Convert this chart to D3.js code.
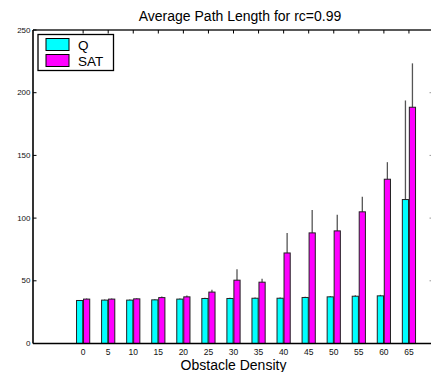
<!DOCTYPE html>
<html>
<head>
<meta charset="utf-8">
<script src="https://cdn.jsdelivr.net/npm/d3@7"></script>
<style>
  body { margin: 0; background: #fff; }
  svg { display: block; font-family: "Liberation Sans", Arial, sans-serif; }
</style>
</head>
<body>
<svg id="chart" width="431" height="372"></svg>
<script>
// obstacle density categories
const densities = [0, 5, 10, 15, 20, 25, 30, 35, 40, 45, 50, 55, 60, 65];
const seriesNames = ['Q', 'SAT'];
// mean path length
const qValues = [34.3, 34.6, 34.6, 34.8, 35.4, 35.9, 35.9, 36.1, 36.1, 36.7, 37.2, 37.7, 38.0, 114.8];
const satValues = [35.4, 35.4, 35.6, 36.6, 37.2, 41.0, 50.5, 48.9, 72.2, 88.2, 89.8, 105.0, 131.0, 188.4];
// error (upper extent)
const qErrors = [0.4, 0.4, 0.4, 0.4, 0.4, 0.5, 0.5, 0.5, 0.5, 0.6, 0.7, 0.7, 0.8, 79];
const satErrors = [0.5, 0.5, 0.5, 0.8, 1.0, 1.8, 8.8, 2.7, 16, 18.3, 12.8, 12, 13.6, 35];
const yTicks = [0, 50, 100, 150, 200, 250];
const xDomain = [-10, 70];

const colors = ['#00ffff', '#ff00ff'];
const margin = { top: 30, right: -3, bottom: 28.5, left: 33 };
const width = 431, height = 372;

const svg = d3.select('#chart');

const x = d3.scaleLinear()
  .domain(xDomain)
  .range([margin.left, width - margin.right]);

const y = d3.scaleLinear()
  .domain([0, 250])
  .range([height - margin.bottom, margin.top]);

const series = [
  { name: seriesNames[0], values: qValues, errors: qErrors, offset: -3.5 },
  { name: seriesNames[1], values: satValues, errors: satErrors, offset: 3.5 }
];
const barW = 6.2;

/** error bars (drawn first so the bar covers the lower half) */
series.forEach((s, si) => {
  svg.selectAll(`.err${si}`)
    .data(densities)
    .enter()
    .append('line')
    .attr('class', `err${si}`)
    .attr('x1', (d) => x(d) + s.offset)
    .attr('x2', (d) => x(d) + s.offset)
    .attr('y1', (d, i) => y(s.values[i] - s.errors[i]))
    .attr('y2', (d, i) => y(s.values[i] + s.errors[i]))
    .style('stroke', '#555')
    .style('stroke-width', 1.3);
});

/** bars */
series.forEach((s, si) => {
  svg.selectAll(`.bar${si}`)
    .data(densities)
    .enter()
    .append('rect')
    .attr('class', `bar${si}`)
    .attr('x', (d) => x(d) + s.offset - barW / 2)
    .attr('width', barW)
    .attr('y', (d, i) => y(s.values[i]))
    .attr('height', (d, i) => y(0) - y(s.values[i]))
    .attr('fill', colors[si])
    .style('stroke', '#222')
    .style('stroke-width', 1);
});

/** axes */
const axisColor = '#000';
svg.append('line')
  .attr('x1', x(xDomain[0])).attr('x2', x(xDomain[1]))
  .attr('y1', y(0)).attr('y2', y(0))
  .style('stroke', axisColor).style('stroke-width', 1.6);
svg.append('line')
  .attr('x1', x(xDomain[0])).attr('x2', x(xDomain[1]))
  .attr('y1', y(250)).attr('y2', y(250))
  .style('stroke', '#222').style('stroke-width', 1.4);
svg.append('line')
  .attr('x1', x(xDomain[0])).attr('x2', x(xDomain[0]))
  .attr('y1', y(0)).attr('y2', y(250))
  .style('stroke', axisColor).style('stroke-width', 1.6);

// y ticks left + right
svg.selectAll('.ytick')
  .data(yTicks)
  .enter()
  .append('line')
  .attr('class', 'ytick')
  .attr('x1', x(xDomain[0])).attr('x2', x(xDomain[0]) + 3.5)
  .attr('y1', (d) => y(d)).attr('y2', (d) => y(d))
  .style('stroke', '#000').style('stroke-width', 1);
svg.selectAll('.ytickr')
  .data(yTicks.slice(1, -1))
  .enter()
  .append('line')
  .attr('class', 'ytickr')
  .attr('x1', x(xDomain[1]) - 4.5).attr('x2', x(xDomain[1]))
  .attr('y1', (d) => y(d)).attr('y2', (d) => y(d))
  .style('stroke', '#999').style('stroke-width', 1);

svg.selectAll('.ylabel')
  .data(yTicks)
  .enter()
  .append('text')
  .attr('class', 'ylabel')
  .attr('x', x(xDomain[0]) - 2.5)
  .attr('y', (d) => y(d) + 2.5)
  .attr('text-anchor', 'end')
  .style('font-size', '8px')
  .attr('fill', '#111')
  .text((d) => d);

// x ticks at top, labels at bottom
svg.selectAll('.xtick')
  .data(densities)
  .enter()
  .append('line')
  .attr('class', 'xtick')
  .attr('x1', (d) => x(d)).attr('x2', (d) => x(d))
  .attr('y1', y(250)).attr('y2', y(250) + 3.5)
  .style('stroke', '#000').style('stroke-width', 1);

svg.selectAll('.xlabel')
  .data(densities)
  .enter()
  .append('text')
  .attr('class', 'xlabel')
  .attr('x', (d) => x(d))
  .attr('y', y(0) + 11.5)
  .attr('text-anchor', 'middle')
  .style('font-size', '8.5px')
  .attr('fill', '#111')
  .text((d) => d);

svg.append('text')
  .attr('x', 233.5)
  .attr('y', 369.5)
  .attr('text-anchor', 'middle')
  .style('font-size', '14px')
  .attr('fill', '#000')
  .text('Obstacle Density');

svg.append('text')
  .attr('x', 240)
  .attr('y', 21)
  .attr('text-anchor', 'middle')
  .style('font-size', '14px')
  .attr('fill', '#000')
  .text('Average Path Length for rc=0.99');

/** legend */
const legend = svg.append('g').attr('transform', 'translate(38,34.5)');
legend.append('rect')
  .attr('width', 75.5).attr('height', 36)
  .attr('fill', '#fff')
  .style('stroke', '#000').style('stroke-width', 1.3);
series.forEach((s, i) => {
  legend.append('rect')
    .attr('x', 8).attr('y', 4 + i * 16)
    .attr('width', 23).attr('height', 12)
    .attr('fill', colors[i])
    .style('stroke', '#000').style('stroke-width', 1);
  legend.append('text')
    .attr('x', 40).attr('y', 15 + i * 16)
    .style('font-size', '13.5px')
    .attr('fill', '#000')
    .text(s.name);
});
</script>
</body>
</html>
